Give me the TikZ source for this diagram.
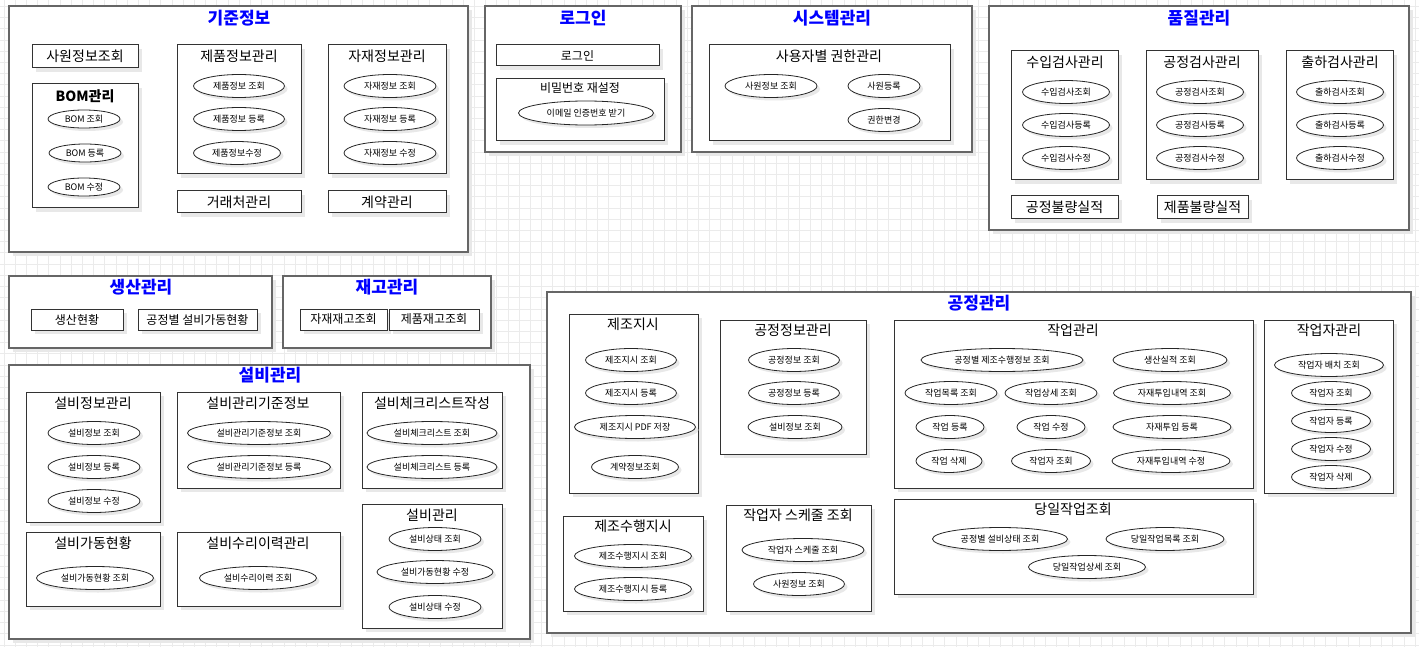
\documentclass[tikz,border=0pt]{standalone}
\usepackage{fontspec}
\setmainfont{Noto Sans CJK KR}
\usetikzlibrary{shapes.geometric,shadows,fit}
\tikzset{
  gridline/.style={draw=black!8, line width=0.8pt},
  shad/.style={drop shadow={shadow xshift=4pt, shadow yshift=-4pt, fill=black!9, opacity=1}},
  outerbox/.style={draw=black!60, line width=1.3pt, fill=white, inner sep=0pt, shad},
  innerbox/.style={draw=black!80, line width=1pt, fill=white, inner sep=0pt, shad},
  maintitle/.style={text=blue, font=\fontsize{17}{20}\selectfont\bfseries, inner sep=0pt},
  subtitle/.style={font=\fontsize{14}{16}\selectfont, inner sep=0pt},
  smalltitle/.style={font=\fontsize{12}{14}\selectfont, inner sep=0pt},
  uc/.style={ellipse, draw=black!85, line width=0.8pt, fill=white, font=\fontsize{9}{10}\selectfont, inner sep=0pt, minimum height=23pt, drop shadow={shadow xshift=3pt, shadow yshift=-3pt, fill=black!9, opacity=1}},
}
\newcommand{\grp}[6][innerbox]{\node[#1, fit={(#3,#4) (#5,#6)}] (#2) {};}
\newcommand{\ucase}[5]{\node[uc, minimum width=#4pt] (#1) at (#2,#3) {#5};}
\newcommand{\sbx}[7]{\node[innerbox, fit={(#2,#3) (#4,#5)}] (#1) {}; \node[inner sep=0pt, font=\fontsize{#6}{#6}\selectfont] (#1-t) at (#1.center) {#7};}
\begin{document}
\begin{tikzpicture}[x=1pt,y=-1pt]
\useasboundingbox (0,0) rectangle (1419,647);
\fill[white] (0,0) rectangle (1419,647);
\foreach \i in {0,...,126} {\draw[gridline] ({3.9+11.2*\i},0) -- ({3.9+11.2*\i},647);}
\foreach \j in {0,...,57} {\draw[gridline] (0,{6.5+11.2*\j}) -- (1419,{6.5+11.2*\j});}

% ===== 기준정보 =====
\grp[outerbox]{gijun}{9}{6}{468}{252}
\node[maintitle] (gijun-t) at (239,18) {기준정보};
\sbx{sawon}{32}{45}{138}{68}{14}{사원정보조회}
\grp{bom}{32}{84}{138}{208}
\node[subtitle, font=\fontsize{14}{16}\selectfont\bfseries] (bom-t) at (85,96) {BOM관리};
\node[uc, minimum width=72pt, minimum height=18pt] (bom1) at (84,119) {BOM 조회};
\node[uc, minimum width=72pt, minimum height=18pt] (bom2) at (85,153) {BOM 등록};
\node[uc, minimum width=72pt, minimum height=18pt] (bom3) at (84,187) {BOM 수정};
\grp{prod}{177}{45}{301}{174}
\node[subtitle] (prod-t) at (239,56) {제품정보관리};
\ucase{prod1}{239}{86}{91}{제품정보 조회}
\ucase{prod2}{239}{119}{91}{제품정보 등록}
\ucase{prod3}{237}{153}{87}{제품정보수정}
\grp{mat}{328}{45}{446}{174}
\node[subtitle] (mat-t) at (387,56) {자재정보관리};
\ucase{mat1}{390}{86}{92}{자재정보 조회}
\ucase{mat2}{390}{119}{92}{자재정보 등록}
\ucase{mat3}{390}{153}{92}{자재정보 수정}
\sbx{client}{177}{191}{301}{213}{14}{거래처관리}
\sbx{contract}{328}{191}{446}{213}{14}{계약관리}

% ===== 로그인 =====
\grp[outerbox]{login}{485}{6}{681}{152}
\node[maintitle] (login-t) at (583,18) {로그인};
\sbx{loginbox}{496}{45}{659}{66}{12}{로그인}
\grp{pw}{496}{79}{664}{141}
\node[smalltitle] (pw-t) at (580,88) {비밀번호 재설정};
\node[uc, minimum width=135pt, minimum height=24pt] (pw1) at (586,113) {이메일 인증번호 받기};

% ===== 시스템관리 =====
\grp[outerbox]{sys}{692}{6}{972}{152}
\node[maintitle] (sys-t) at (832,18) {시스템관리};
\grp{perm}{709}{45}{950}{141}
\node[subtitle] (perm-t) at (829,56) {사용자별 권한관리};
\ucase{perm1}{771}{86}{92}{사원정보 조회}
\ucase{perm2}{884}{86}{72}{사원등록}
\ucase{perm3}{884}{120}{72}{권한변경}

% ===== 품질관리 =====
\grp[outerbox]{qual}{989}{6}{1409}{230}
\node[maintitle] (qual-t) at (1199,18) {품질관리};
\grp{inq}{1011}{51}{1118}{180}
\node[subtitle] (inq-t) at (1065,62) {수입검사관리};
\ucase{inq1}{1066}{92}{87}{수입검사조회}
\ucase{inq2}{1066}{125}{87}{수입검사등록}
\ucase{inq3}{1066}{158}{87}{수입검사수정}
\grp{prq}{1146}{51}{1258}{180}
\node[subtitle] (prq-t) at (1202,62) {공정검사관리};
\ucase{prq1}{1200}{92}{87}{공정검사조회}
\ucase{prq2}{1200}{125}{87}{공정검사등록}
\ucase{prq3}{1200}{158}{87}{공정검사수정}
\grp{outq}{1286}{51}{1393}{180}
\node[subtitle] (outq-t) at (1340,62) {출하검사관리};
\ucase{outq1}{1340}{92}{87}{출하검사조회}
\ucase{outq2}{1340}{125}{87}{출하검사등록}
\ucase{outq3}{1340}{158}{87}{출하검사수정}
\sbx{pdef}{1011}{196}{1118}{219}{14}{공정불량실적}
\sbx{gdef}{1157}{196}{1248}{219}{14}{제품불량실적}

% ===== 생산관리 =====
\grp[outerbox]{prodm}{9}{276}{272}{348}
\node[maintitle] (prodm-t) at (141,287) {생산관리};
\sbx{prodstat}{31}{309}{123}{330}{12}{생산현황}
\sbx{eqstat}{138}{309}{257}{330}{12}{공정별 설비가동현황}

% ===== 재고관리 =====
\grp[outerbox]{stock}{283}{276}{491}{348}
\node[maintitle] (stock-t) at (387,287) {재고관리};
\sbx{matstock}{300}{309}{387}{330}{12}{자재재고조회}
\sbx{prodstock}{389}{309}{479}{330}{12}{제품재고조회}

% ===== 설비관리 =====
\grp[outerbox]{equip}{9}{365}{530}{639}
\node[maintitle] (equip-t) at (270,375) {설비관리};
\grp{eqinfo}{26}{392}{160}{522}
\node[subtitle] (eqinfo-t) at (93,403) {설비정보관리};
\ucase{eqinfo1}{94}{433}{92}{설비정보 조회}
\ucase{eqinfo2}{94}{467}{92}{설비정보 등록}
\ucase{eqinfo3}{94}{501}{92}{설비정보 수정}
\grp{eqstd}{177}{392}{340}{488}
\node[subtitle] (eqstd-t) at (258,403) {설비관리기준정보};
\ucase{eqstd1}{259}{433}{143}{설비관리기준정보 조회}
\ucase{eqstd2}{259}{467}{143}{설비관리기준정보 등록}
\grp{eqchk}{362}{392}{502}{488}
\node[subtitle] (eqchk-t) at (432,403) {설비체크리스트작성};
\ucase{eqchk1}{432}{433}{130}{설비체크리스트 조회}
\ucase{eqchk2}{432}{467}{130}{설비체크리스트 등록}
\grp{eqman}{362}{504}{502}{628}
\node[subtitle] (eqman-t) at (432,515) {설비관리};
\ucase{eqman1}{435}{539}{92}{설비상태 조회}
\ucase{eqman2}{435}{572}{116}{설비가동현황 수정}
\ucase{eqman3}{435}{607}{92}{설비상태 수정}
\grp{eqop}{26}{532}{160}{606}
\node[subtitle] (eqop-t) at (93,543) {설비가동현황};
\ucase{eqop1}{95}{578}{117}{설비가동현황 조회}
\grp{eqrep}{177}{532}{340}{606}
\node[subtitle] (eqrep-t) at (258,543) {설비수리이력관리};
\ucase{eqrep1}{258}{578}{117}{설비수리이력 조회}

% ===== 공정관리 =====
\grp[outerbox]{proc}{547}{292}{1411}{633}
\node[maintitle] (proc-t) at (979,303) {공정관리};
\grp{order}{569}{314}{698}{493}
\node[subtitle] (order-t) at (633,324) {제조지시};
\ucase{order1}{631}{360}{91}{제조지시 조회}
\ucase{order2}{631}{393}{91}{제조지시 등록}
\ucase{order3}{635}{427}{121}{제조지시 PDF 저장}
\ucase{order4}{635}{467}{87}{계약정보조회}
\grp{pinfo}{720}{320}{866}{454}
\node[subtitle] (pinfo-t) at (793,330) {공정정보관리};
\ucase{pinfo1}{794}{360}{91}{공정정보 조회}
\ucase{pinfo2}{794}{393}{91}{공정정보 등록}
\ucase{pinfo3}{795}{427}{94}{설비정보 조회}
\grp{exec}{563}{516}{703}{611}
\node[subtitle] (exec-t) at (633,526) {제조수행지시};
\ucase{exec1}{633}{556}{117}{제조수행지시 조회}
\ucase{exec2}{633}{589}{117}{제조수행지시 등록}
\grp{sched}{726}{505}{871}{611}
\node[subtitle] (sched-t) at (798,515) {작업자 스케줄 조회};
\ucase{sched1}{803}{550}{122}{작업자 스케줄 조회}
\ucase{sched2}{799}{584}{91}{사원정보 조회}
\grp{work}{894}{320}{1253}{488}
\node[subtitle] (work-t) at (1073,330) {작업관리};
\ucase{work1}{1002}{360}{162}{공정별 제조수행정보 조회}
\ucase{work2}{1170}{360}{114}{생산실적 조회}
\ucase{work3}{951}{393}{92}{작업목록 조회}
\ucase{work4}{1051}{393}{92}{작업상세 조회}
\ucase{work5}{1172}{393}{117}{자재투입내역 조회}
\ucase{work6}{950}{427}{68}{작업 등록}
\ucase{work7}{1051}{427}{68}{작업 수정}
\ucase{work8}{1172}{427}{118}{자재투입 등록}
\ucase{work9}{949}{461}{66}{작업 삭제}
\ucase{work10}{1051}{461}{79}{작업자 조회}
\ucase{work11}{1171}{461}{118}{자재투입내역 수정}
\grp{today}{894}{499}{1253}{594}
\node[subtitle] (today-t) at (1073,509) {당일작업조회};
\ucase{today1}{1000}{539}{135}{공정별 설비상태 조회}
\ucase{today2}{1165}{539}{118}{당일작업목록 조회}
\ucase{today3}{1087}{567}{117}{당일작업상세 조회}
\grp{worker}{1264}{320}{1393}{493}
\node[subtitle] (worker-t) at (1329,330) {작업자관리};
\ucase{worker1}{1329}{365}{109}{작업자 배치 조회}
\ucase{worker2}{1331}{393}{79}{작업자 조회}
\ucase{worker3}{1331}{421}{79}{작업자 등록}
\ucase{worker4}{1331}{449}{79}{작업자 수정}
\ucase{worker5}{1331}{477}{79}{작업자 삭제}
\end{tikzpicture}
\end{document}
